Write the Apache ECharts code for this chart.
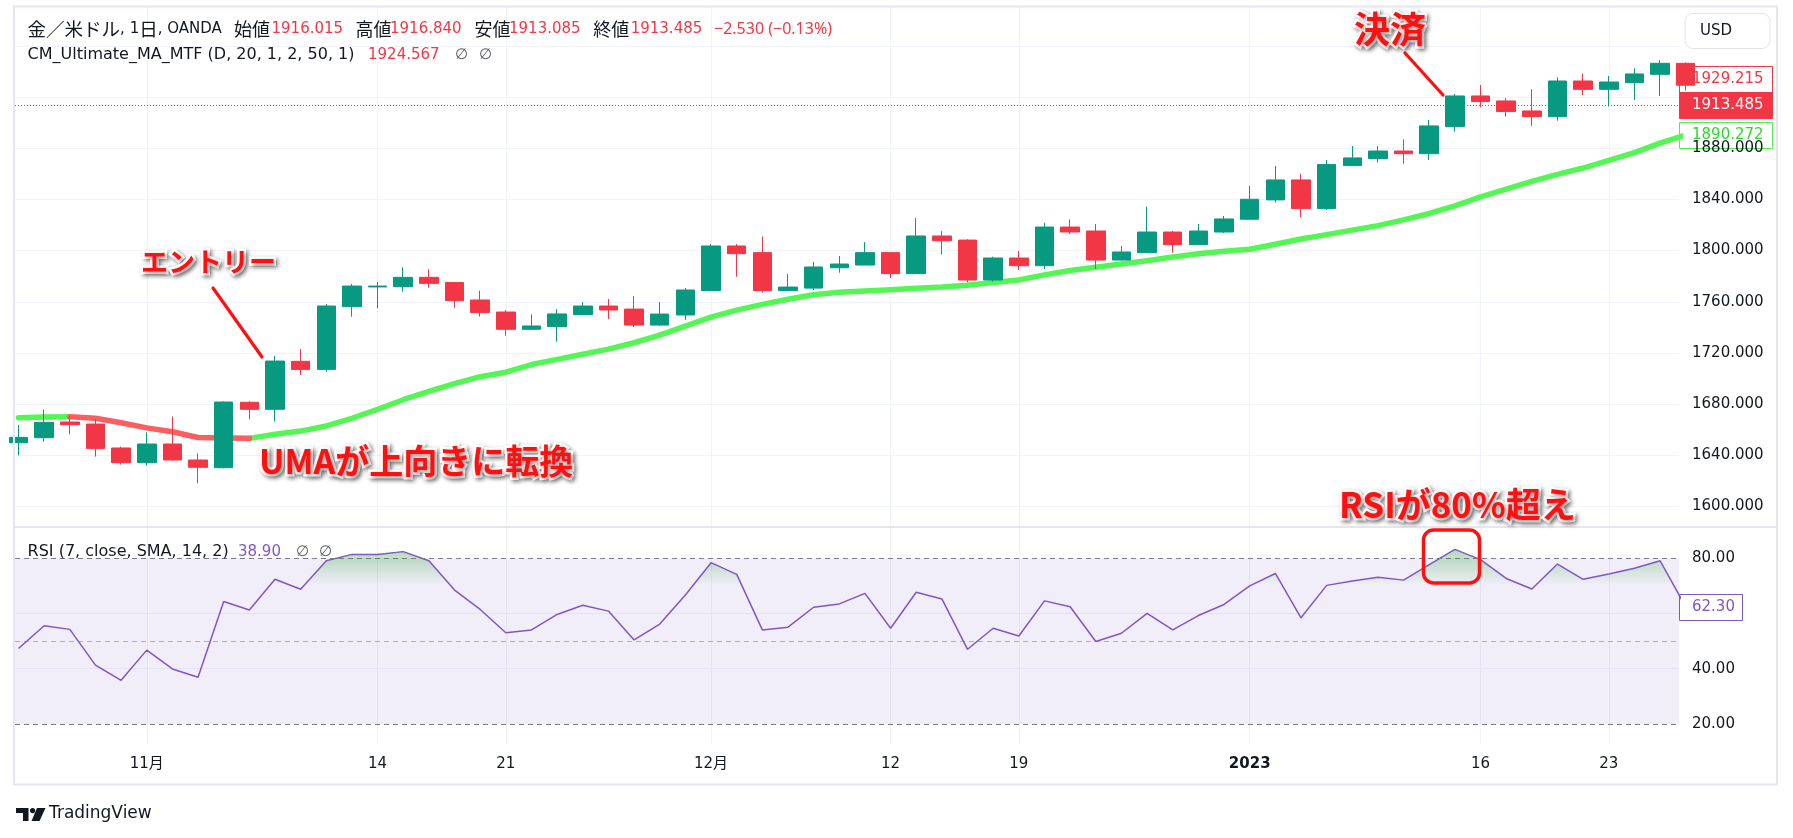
<!DOCTYPE html>
<html><head><meta charset="utf-8">
<script src="https://cdn.jsdelivr.net/npm/echarts@6/dist/echarts.min.js"></script>
<style>html,body{margin:0;padding:0;background:#fff;}#c{width:1793px;height:838px;}</style>
</head><body><div id="c"></div>
<script>
// ---------------- data ----------------
const dates = ['10/25','10/26','10/27','10/28','10/31','11/1','11/2','11/3','11/4','11/7','11/8','11/9','11/10','11/11','11/14','11/15','11/16','11/17','11/18','11/21','11/22','11/23','11/24','11/25','11/28','11/29','11/30','12/1','12/2','12/5','12/6','12/7','12/8','12/9','12/12','12/13','12/14','12/15','12/16','12/19','12/20','12/21','12/22','12/23','12/27','12/28','12/29','12/30','1/3','1/4','1/5','1/6','1/9','1/10','1/11','1/12','1/13','1/16','1/17','1/18','1/19','1/20','1/23','1/24','1/25','1/26'];
const opens  = [1649.9,1653.8,1666.1,1664.5,1645.8,1634.3,1648.9,1636.4,1630.4,1681.5,1676.0,1713.5,1707.2,1756.2,1771.6,1771.8,1779.1,1775.0,1761.4,1752.0,1738.5,1740.6,1750.0,1756.7,1754.3,1741.8,1749.7,1768.7,1803.6,1798.4,1768.7,1770.7,1786.6,1788.7,1798.4,1782.0,1811.4,1808.2,1777.0,1794.2,1788.2,1818.4,1815.3,1792.6,1798.4,1814.5,1804.6,1814.5,1824.5,1839.6,1855.2,1832.8,1866.4,1871.8,1877.8,1875.7,1896.8,1920.8,1916.9,1909.1,1904.7,1932.5,1926.0,1931.2,1937.7,1946.3];
const closes = [1654.1,1665.8,1664.0,1645.3,1634.3,1648.9,1636.4,1630.7,1681.7,1676.0,1713.7,1707.2,1756.7,1772.3,1772.3,1779.1,1774.4,1760.9,1751.5,1738.5,1741.1,1750.5,1756.7,1753.6,1741.8,1750.4,1769.2,1803.6,1797.6,1768.7,1771.5,1787.2,1789.5,1798.4,1782.0,1811.4,1807.7,1777.0,1794.2,1788.2,1818.4,1814.5,1792.6,1798.9,1814.5,1804.6,1815.3,1824.7,1840.1,1855.2,1832.8,1867.2,1872.4,1877.8,1875.7,1897.4,1920.8,1916.4,1908.6,1904.7,1932.5,1926.0,1931.7,1938.0,1946.3,1929.215];
const lows   = [1640.0,1650.7,1656.4,1639.0,1632.8,1632.0,1635.9,1618.2,1629.9,1668.2,1666.6,1702.8,1705.4,1748.4,1754.9,1767.9,1771.0,1755.4,1748.4,1733.5,1738.5,1728.8,1749.8,1746.5,1740.3,1741.1,1745.8,1768.7,1779.6,1767.1,1768.7,1769.2,1782.7,1788.7,1778.6,1782.0,1796.8,1775.2,1775.7,1784.8,1785.6,1813.0,1785.6,1792.1,1798.4,1798.4,1804.6,1813.7,1824.5,1837.7,1826.0,1831.7,1866.4,1868.7,1867.9,1870.8,1893.0,1912.0,1904.7,1897.4,1901.5,1921.6,1912.5,1917.7,1920.8,1925.0];
const highs  = [1663.7,1676.0,1670.8,1668.2,1646.8,1658.0,1670.3,1641.6,1682.2,1682.2,1717.6,1723.1,1758.3,1773.9,1775.5,1786.9,1785.4,1775.5,1768.7,1753.6,1750.2,1754.3,1759.8,1762.2,1764.5,1759.8,1770.8,1805.1,1805.1,1810.9,1781.7,1791.1,1795.8,1806.7,1798.4,1825.4,1815.3,1808.8,1795.2,1799.7,1821.8,1824.4,1820.8,1803.6,1834.3,1815.3,1820.8,1827.0,1850.5,1866.1,1859.9,1870.8,1881.7,1881.7,1886.9,1902.1,1922.4,1929.4,1919.0,1926.0,1935.4,1938.0,1936.4,1942.4,1948.9,1947.0];
const uma    = [1669.5,1670.0,1670.2,1669.0,1665.5,1661.5,1658.5,1654.0,1653.6,1653.3,1656.5,1659.0,1663.0,1669.0,1676.0,1683.5,1690.0,1696.0,1701.5,1705.0,1711.0,1715.0,1719.0,1723.0,1728.0,1734.0,1741.0,1748.0,1753.5,1758.0,1762.0,1765.5,1767.5,1768.5,1769.5,1770.5,1771.5,1773.0,1775.0,1777.0,1781.0,1784.5,1787.0,1789.5,1792.0,1795.0,1797.5,1799.5,1801.0,1805.0,1809.0,1812.5,1816.0,1819.5,1824.0,1829.0,1835.0,1842.0,1848.0,1854.0,1859.5,1864.5,1870.5,1876.5,1884.0,1890.272];
const rsi    = [47.3,55.5,54.2,41.3,35.8,46.7,39.9,36.9,64.3,61.2,72.3,68.7,79.0,81.3,81.3,82.3,79.0,68.4,61.4,53.0,54.0,59.6,62.9,60.8,50.4,56.1,66.6,78.3,74.1,54.0,55.0,62.2,63.4,67.2,54.6,67.6,65.2,47.0,54.6,51.8,64.5,62.4,49.8,52.8,60.0,54.0,59.2,63.2,69.9,74.4,58.4,70.1,71.7,73.0,72.0,77.6,83.1,79.4,72.6,68.8,77.8,72.3,74.2,76.3,79.0,62.3];
const xTickIndex  = [5,14,19,27,34,39,48,57,62];
const xTickLabels = ['11月','14','21','12月','12','19','2023','16','23'];
const priceTicks = [1600,1640,1680,1720,1760,1800,1840,1880];
const priceGridTicks = [1600,1640,1680,1720,1760,1800,1840,1880,1920,1960];
const rsiTicks = [20,40,80];
const rsiGridTicks = [40,60];
const rsiBands = {upper:80, middle:50, lower:20};
const lastPrice = 1913.485;
const header1 = {o:'1916.015', h:'1916.840', l:'1913.085', c:'1913.485', chg:'−2.530 (−0.13%)'};
const header2 = {name:'CM_Ultimate_MA_MTF (D, 20, 1, 2, 50, 1)', val:'1924.567'};
const header3 = {name:'RSI (7, close, SMA, 14, 2)', val:'38.90'};

// ---------------- build ----------------
const N = closes.length;
const FONT = '"DejaVu Sans","Noto Sans CJK JP",sans-serif';
const CJK = '"Noto Sans CJK JP",sans-serif';
const UP = '#089981', DOWN = '#F23645', TXT = '#131722', PURPLE = '#7E57C2';
const GRIDC = '#f0f3fa';
const XMIN = -0.1365, XMAX = 64.737;

const candleData = opens.map((o,i)=>[i,o,closes[i],lows[i],highs[i]]);
const umaUp = [], umaDown = [];
for (let i=0;i<N;i++){
  const dp = i>0 && uma[i]<uma[i-1], dn = i<N-1 && uma[i+1]<uma[i];
  const up = i>0 && uma[i]>=uma[i-1], un = i<N-1 && uma[i+1]>=uma[i];
  umaUp.push([i,(up||un)?uma[i]:null]);
  umaDown.push([i,(dp||dn)?uma[i]:null]);
}

const chart = echarts.init(document.getElementById('c'));
const xAxisBase = {type:'value', min:XMIN, max:XMAX, axisLine:{show:false},
  axisTick:{show:false, customValues:xTickIndex},
  splitLine:{show:true, lineStyle:{color:GRIDC,width:1}}};
chart.setOption({
  animation:false,
  backgroundColor:'#ffffff',
  textStyle:{fontFamily:FONT},
  grid:[
    {left:15, top:7, width:1664, height:520, outerBoundsMode:'none'},
    {left:15, top:527, width:1664, height:217, outerBoundsMode:'none'}
  ],
  xAxis:[
    Object.assign({gridIndex:0, axisLabel:{show:false, customValues:xTickIndex}}, xAxisBase),
    Object.assign({gridIndex:1, axisLabel:{show:true, customValues:xTickIndex, margin:13,
      color:TXT, fontSize:15, fontFamily:FONT,
      formatter:v=>{const k=xTickIndex.indexOf(Math.round(v)); if(k<0) return ''; const s=xTickLabels[k]; return /^\d{4}$/.test(s)?'{b|'+s+'}':s;},
      rich:{b:{fontWeight:'bold',fontSize:15,color:TXT,fontFamily:FONT}}}}, xAxisBase)
  ],
  yAxis:[
    {type:'value', gridIndex:0, position:'right', min:1584.06, max:1990.3,
      axisLine:{show:false}, axisTick:{show:false, customValues:priceGridTicks},
      axisLabel:{customValues:priceTicks, formatter:v=>v.toFixed(3), margin:13, color:TXT, fontSize:15, fontFamily:FONT},
      splitLine:{show:true, lineStyle:{color:GRIDC}}},
    {type:'value', gridIndex:1, position:'right', min:12.77, max:91.2,
      axisLine:{show:false}, axisTick:{show:false, customValues:rsiGridTicks},
      axisLabel:{customValues:rsiTicks, formatter:v=>v.toFixed(2), margin:13, color:TXT, fontSize:15, fontFamily:FONT},
      splitLine:{show:true, lineStyle:{color:GRIDC}}}
  ],
  series:[
    {id:'umaUp', type:'line', xAxisIndex:0, yAxisIndex:0, data:umaUp, symbol:'none', z:1,
      lineStyle:{color:'#55f555', width:5.5, cap:'round', join:'round'}, connectNulls:false},
    {id:'umaDown', type:'line', xAxisIndex:0, yAxisIndex:0, data:umaDown, symbol:'none', z:1,
      lineStyle:{color:'#fa5f5f', width:5.5, cap:'round', join:'round'}, connectNulls:false},
    {id:'price', type:'candlestick', xAxisIndex:0, yAxisIndex:0, data:candleData, z:3,
      encode:{x:0, y:[1,2,3,4]}, barWidth:19, clip:true,
      itemStyle:{color:UP, color0:DOWN, borderColor:UP, borderColor0:DOWN, borderWidth:1},
      markLine:{silent:true, symbol:'none', label:{show:false},
        lineStyle:{color:DOWN, type:[1,2], width:1}, data:[{yAxis:lastPrice}]}},
    {id:'rsi', type:'line', xAxisIndex:1, yAxisIndex:1, data:rsi.map((v,i)=>[i,v]), symbol:'none', z:3,
      lineStyle:{color:PURPLE, width:1.5},
      markArea:{silent:true, itemStyle:{color:'rgba(126,87,194,0.1)'}, data:[[{yAxis:rsiBands.lower},{yAxis:rsiBands.upper}]]},
      markLine:{silent:true, symbol:'none', label:{show:false}, data:[
        {yAxis:rsiBands.upper, lineStyle:{color:'#787B86', type:[5,4], width:1}},
        {yAxis:rsiBands.middle, lineStyle:{color:'rgba(120,123,134,0.55)', type:[5,4], width:1}},
        {yAxis:rsiBands.lower, lineStyle:{color:'#787B86', type:[5,4], width:1}}
      ]}}
  ]
});

// gradient for overbought fill (100 -> 70)
const y100 = chart.convertToPixel({yAxisIndex:1}, 100);
const y70 = chart.convertToPixel({yAxisIndex:1}, 70);

// price tags
function tagEl(y, text, w, fill, stroke, color){
  return {type:'group', z:100, children:[
    {type:'rect', shape:{x:1679.5, y:Math.round(y-13)+0.5, width:w, height:26}, style:{fill:fill, stroke:stroke, lineWidth:1}},
    {type:'text', x:1692, y:y, style:{text:text, font:'15px '+FONT, fill:color, verticalAlign:'middle', textAlign:'left'}}
  ]};
}
const py = v=>chart.convertToPixel({yAxisIndex:0}, v);
let yLast = py(lastPrice), yClose = py(closes[N-1]), yMa = py(uma[N-1]);
if (yClose > yLast-26) yClose = yLast-26;
if (yMa < yLast+26) yMa = yLast+26;
const yRsi = chart.convertToPixel({yAxisIndex:1}, rsi[N-1]);

function T(x,y,text,font,fill,extra){return Object.assign({type:'text', x:x, y:y, z:100, style:Object.assign({text:text, font:font, fill:fill, verticalAlign:'middle', textAlign:'left'}, extra||{})});}
function anno(x,y,text,size){
  return {type:'text', x:x, y:y, z:120, style:{text:text, font:'bold '+size+'px '+CJK, fill:'#ff1010',
    stroke:'#ffffff', lineWidth:5, strokeFirst:true, verticalAlign:'middle', textAlign:'left',
    shadowColor:'rgba(0,0,0,0.45)', shadowBlur:4, shadowOffsetX:2, shadowOffsetY:2,
    textShadowColor:'rgba(0,0,0,0.45)', textShadowBlur:4, textShadowOffsetX:2, textShadowOffsetY:2}};
}
const F15 = '15px '+FONT, F16 = '16px '+FONT, C18 = '18px '+CJK;
const graphics = [
  {type:'rect', z:90, shape:{x:14, y:6.5, width:1763, height:778}, style:{fill:'none', stroke:'#e6e7ee', lineWidth:2}},
  {type:'line', z:90, shape:{x1:14, y1:527, x2:1777, y2:527}, style:{stroke:'#e6e7ee', lineWidth:2}},
  // USD button
  {type:'rect', z:95, shape:{x:1685, y:13.5, width:85, height:35, r:8}, style:{fill:'#fff', stroke:'#e0e3eb', lineWidth:1}},
  T(1700, 31, 'USD', F15, TXT),
  // header row 1
  {type:'text', x:27.6, y:29, z:100, style:{text:'{c|金／米ドル}{l|, 1}{c|日}{l|, OANDA}', verticalAlign:'middle',
     rich:{c:{font:'18.5px '+CJK, fill:TXT}, l:{font:F15, fill:TXT}}}},
  T(234, 29, '始値', C18, TXT), T(271.5, 29, header1.o, F15, DOWN),
  T(355.5, 29, '高値', C18, TXT), T(390, 29, header1.h, F15, DOWN),
  T(474.5, 29, '安値', C18, TXT), T(509, 29, header1.l, F15, DOWN),
  T(593.3, 29, '終値', C18, TXT), T(630.7, 29, header1.c, F15, DOWN),
  T(714, 29, header1.chg, '16px "Noto Sans",sans-serif', DOWN),
  // header row 2
  T(27.6, 55, header2.name, F16, TXT), T(368, 55, header2.val, F15, DOWN),
  T(455, 55, '∅', F15, '#5d606b'), T(479, 55, '∅', F15, '#5d606b'),
  // RSI header
  T(27.6, 552, header3.name, F16, TXT), T(238, 552, header3.val, F15, PURPLE),
  T(296, 552, '∅', F15, '#5d606b'), T(319, 552, '∅', F15, '#5d606b'),
  // tags
  tagEl(yClose, closes[N-1].toFixed(3), 93, '#ffffff', DOWN, DOWN),
  tagEl(yLast, lastPrice.toFixed(3), 93, DOWN, DOWN, '#ffffff'),
  tagEl(yMa, uma[N-1].toFixed(3), 93, '#ffffff', '#4ff04f', '#2fd82f'),
  tagEl(yRsi, rsi[N-1].toFixed(2), 63, '#ffffff', PURPLE, PURPLE),
  // annotations
  anno(141, 262, 'エントリー', 27),
  {type:'line', z:115, shape:{x1:213, y1:288, x2:262, y2:357}, style:{stroke:'#ff1010', lineWidth:3.2, lineCap:'round'}},
  anno(259, 461, 'UMAが上向きに転換', 34),
  anno(1354, 29, '決済', 36),
  {type:'line', z:115, shape:{x1:1405, y1:53, x2:1443, y2:95}, style:{stroke:'#ff1010', lineWidth:3.2, lineCap:'round'}},
  anno(1339, 505, 'RSIが80%超え', 35),
  {type:'rect', z:115, shape:{x:1423.5, y:530, width:56, height:53, r:10}, style:{fill:'none', stroke:'#ff1010', lineWidth:3.5}},
  // TradingView logo
  {type:'polygon', z:100, shape:{points:[[16,808],[28.5,808],[28.5,821],[23,821],[23,813],[16,813]]}, style:{fill:TXT}},
  {type:'circle', z:100, shape:{cx:32.6, cy:810.6, r:2.6}, style:{fill:TXT}},
  {type:'polygon', z:100, shape:{points:[[37,808],[45.5,808],[39.5,821],[31.5,821]]}, style:{fill:TXT}},
  T(49, 814, 'TradingView', '17px '+FONT, TXT)
];

chart.setOption({
  series:[{id:'rsi', areaStyle:{opacity:1, color:{type:'linear', x:0, y:y100, x2:0, y2:y70, global:true,
    colorStops:[{offset:0, color:'rgba(76,175,80,1)'},{offset:1, color:'rgba(76,175,80,0)'}]}}}],
  graphic:graphics
});
</script></body></html>
